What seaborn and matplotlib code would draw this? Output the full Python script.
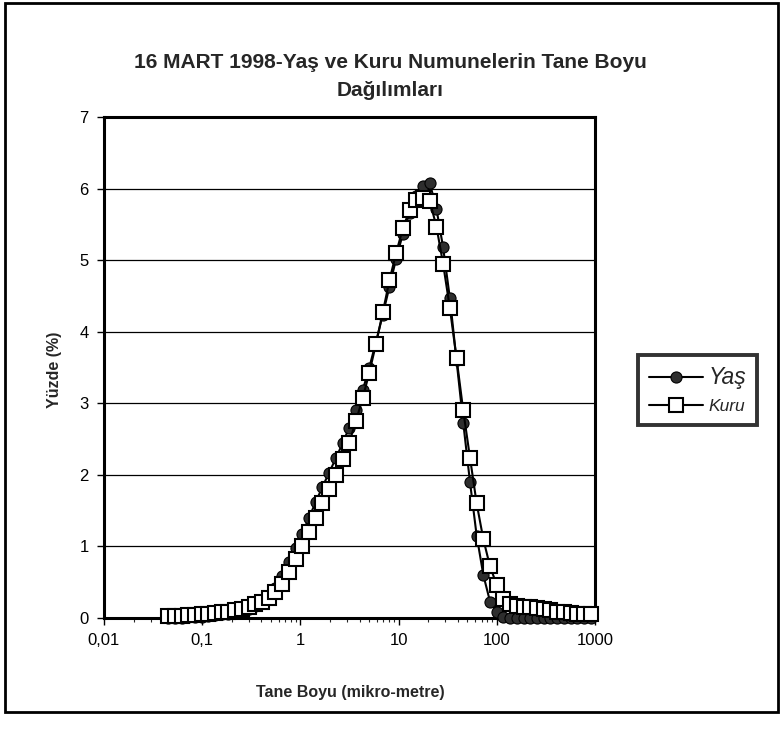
import matplotlib
matplotlib.use('Agg')
import matplotlib.pyplot as plt
import seaborn as sns
import pandas as pd
from matplotlib.patches import Rectangle
from matplotlib.ticker import FixedLocator, LogLocator, NullFormatter

# particle size classes (micrometre)
size_um = [0.045, 0.0527, 0.0617, 0.0722, 0.0845, 0.0987, 0.1156, 0.1352, 0.1582, 0.1852,
           0.2168, 0.2535, 0.2969, 0.3475, 0.4064, 0.4753, 0.557, 0.652, 0.762, 0.893,
           1.045, 1.222, 1.432, 1.675, 1.959, 2.296, 2.685, 3.141, 3.673, 4.305,
           5.035, 5.888, 6.902, 8.072, 9.44, 11.07, 12.94, 15.14, 17.70, 20.75,
           24.27, 28.38, 33.27, 38.90, 45.50, 53.33, 62.37, 72.95, 85.31, 100.0,
           117.0, 136.8, 160.3, 187.5, 219.3, 257.0, 300.6, 351.6, 411.1, 481.9,
           563.6, 659.2, 772.7, 903.6]

# wet sample (%)
yas = [0.0, 0.0, 0.0, 0.01, 0.01, 0.02, 0.03, 0.04, 0.05, 0.06,
       0.08, 0.1, 0.13, 0.17, 0.22, 0.3, 0.42, 0.58, 0.78, 0.98,
       1.18, 1.4, 1.62, 1.83, 2.03, 2.23, 2.44, 2.66, 2.9, 3.18,
       3.5, 3.86, 4.24, 4.63, 5.02, 5.37, 5.66, 5.9, 6.04, 6.08,
       5.72, 5.18, 4.47, 3.6, 2.73, 1.9, 1.15, 0.6, 0.23, 0.08,
       0.02, 0.0, 0.0, 0.0, 0.0, 0.0, 0.0, 0.0, 0.0, 0.0,
       0.0, 0.0, 0.0, 0.0]

# dry sample (%)
kuru = [0.03, 0.03, 0.03, 0.04, 0.04, 0.05, 0.06, 0.07, 0.08, 0.09,
        0.11, 0.13, 0.16, 0.19, 0.23, 0.28, 0.36, 0.48, 0.64, 0.82,
        1.0, 1.2, 1.4, 1.6, 1.8, 2.0, 2.22, 2.45, 2.75, 3.07,
        3.43, 3.83, 4.27, 4.72, 5.1, 5.45, 5.7, 5.84, 5.87, 5.83,
        5.47, 4.95, 4.33, 3.63, 2.9, 2.24, 1.6, 1.1, 0.72, 0.46,
        0.27, 0.2, 0.17, 0.16, 0.15, 0.14, 0.13, 0.11, 0.09, 0.08,
        0.07, 0.06, 0.06, 0.05]

x_ticks = [0.01, 0.1, 1, 10, 100, 1000]
x_tick_labels = ['0,01', '0,1', '1', '10', '100', '1000']
y_ticks = [0, 1, 2, 3, 4, 5, 6, 7]

df = pd.DataFrame({'size': size_um, 'Yaş': yas, 'Kuru': kuru})

sns.set_theme(style='white')
plt.rcParams['font.family'] = ['Liberation Sans', 'DejaVu Sans']

W, H = 781, 737
fig = plt.figure(figsize=(W / 100, H / 100), dpi=100)
ax = fig.add_axes([104 / W, 1 - 618 / H, (595 - 104) / W, (618 - 117) / H])

sns.lineplot(data=df, x='size', y='Yaş', ax=ax, color='black', lw=1.5,
             marker='o', markersize=8, markerfacecolor='#2e2e2e',
             markeredgecolor='black', markeredgewidth=0.8, label='Yaş',
             clip_on=False, zorder=3)
sns.lineplot(data=df, x='size', y='Kuru', ax=ax, color='black', lw=1.5,
             marker='s', markersize=9.5, markerfacecolor='white',
             markeredgecolor='black', markeredgewidth=1.5, label='Kuru',
             clip_on=False, zorder=4)

ax.set_xscale('log')
ax.set_xlim(0.01, 1000)
ax.set_ylim(0, 7)
ax.xaxis.set_major_locator(FixedLocator(x_ticks))
ax.set_xticklabels(x_tick_labels)
ax.xaxis.set_minor_locator(LogLocator(base=10, subs=range(2, 10)))
ax.xaxis.set_minor_formatter(NullFormatter())
ax.set_yticks(y_ticks)
ax.tick_params(axis='both', which='major', direction='out', length=5, width=1,
               labelsize=12, bottom=True, left=True, colors='black', pad=6)
ax.tick_params(axis='x', which='minor', direction='out', length=3, width=0.8, bottom=True)
ax.set_xlabel('')
ax.set_ylabel('')

ax.yaxis.grid(True, color='black', lw=0.9)
ax.xaxis.grid(False)
ax.set_axisbelow(True)
for sp in ax.spines.values():
    sp.set_visible(True)
    sp.set_color('black')
    sp.set_linewidth(2.2)

# legend outside, right of the plot
leg = ax.legend(loc='center left', bbox_to_anchor=(638 / W, 1 - 390 / H),
                bbox_transform=fig.transFigure, frameon=True, fancybox=False,
                edgecolor='black', fontsize=13, handlelength=3.0,
                borderpad=0.6, labelspacing=0.55, handletextpad=0.3,
                borderaxespad=0)
leg.get_frame().set_linewidth(2.8)
leg.get_texts()[0].set_fontsize(16.5)
leg.get_texts()[0].set_fontstyle('italic')
leg.get_texts()[1].set_fontsize(12.5)
leg.get_texts()[1].set_fontstyle('italic')

# titles and axis labels
fig.text(390 / W, 1 - 62 / H, '16 MART 1998-Yaş ve Kuru Numunelerin Tane Boyu',
         ha='center', va='center', fontsize=15, fontweight='bold')
fig.text(390 / W, 1 - 91 / H, 'Dağılımları', ha='center', va='center',
         fontsize=15, fontweight='bold')
fig.text(55 / W, 1 - 370 / H, 'Yüzde (%)', rotation=90, ha='center', va='center',
         fontsize=11.5, fontweight='bold')
fig.text(350 / W, 1 - 693 / H, 'Tane Boyu (mikro-metre)', ha='center', va='center',
         fontsize=11.5, fontweight='bold')

# chart-area border
fig.patches.append(Rectangle((5 / W, 1 - 712 / H), (778 - 5) / W, (712 - 3) / H,
                             transform=fig.transFigure, fill=False,
                             edgecolor='black', lw=2))

fig.savefig('out.png', dpi=100)
